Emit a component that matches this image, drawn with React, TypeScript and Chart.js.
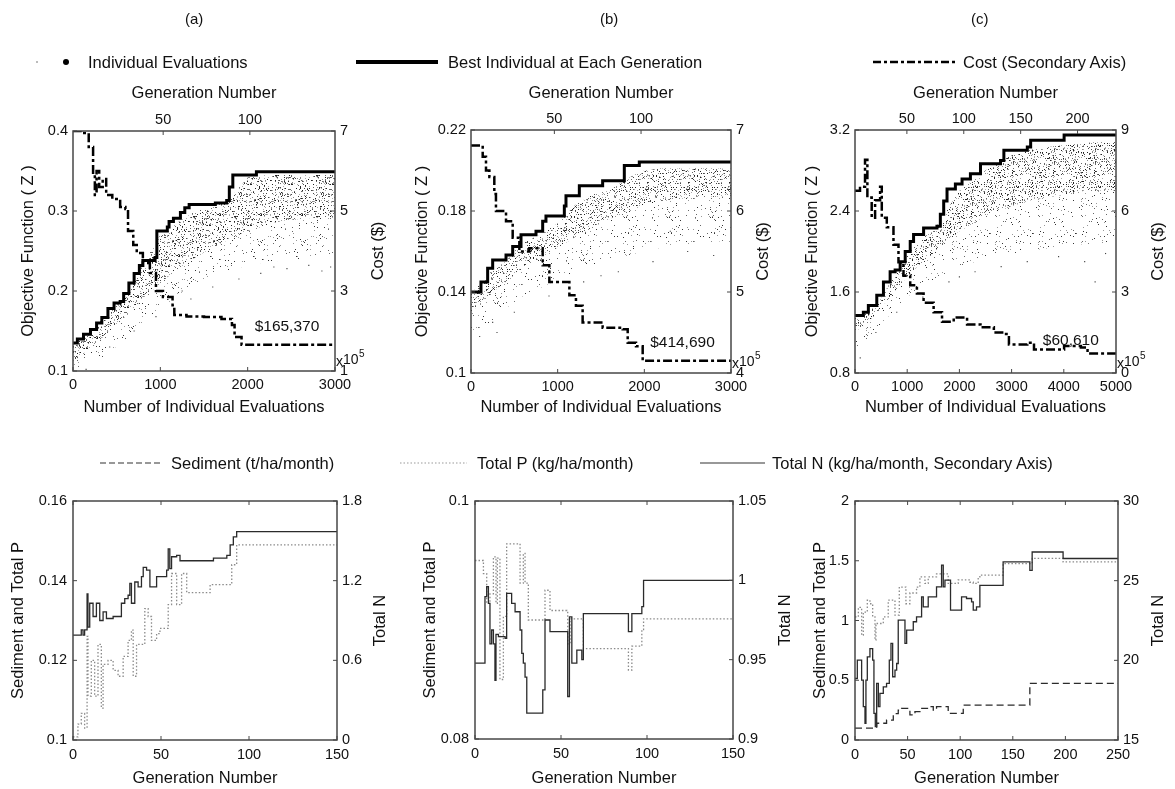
import React, { useEffect, useRef } from 'react';
import { Chart, registerables } from 'chart.js';
Chart.register(...registerables);

const W = 1175;
const H = 789;
const FONT = '"Liberation Sans", Arial, Helvetica, sans-serif';

type Pt = [number, number];

// ---------------- Top row: (a) ----------------
const aBest: Pt[] = [[0,0.135],[50,0.14],[120,0.146],[200,0.152],[270,0.16],[330,0.167],[400,0.178],[470,0.185],[540,0.187],[580,0.197],[640,0.21],[700,0.222],[760,0.232],[800,0.238],[940,0.242],[960,0.275],[1080,0.28],[1100,0.287],[1150,0.291],[1230,0.298],[1280,0.304],[1330,0.308],[1630,0.31],[1760,0.313],[1790,0.33],[1830,0.345],[2100,0.349],[3000,0.349]];
const aCost: Pt[] = [[0,7.0],[100,6.95],[180,6.6],[230,5.9],[250,5.4],[270,6.0],[300,5.6],[340,5.8],[380,5.4],[450,5.3],[540,5.1],[600,5.05],[630,4.5],[690,4.15],[730,3.95],[800,3.7],[880,3.45],[950,3.0],[1030,2.85],[1140,2.6],[1160,2.4],[1300,2.36],[1500,2.35],[1700,2.3],[1820,2.15],[1850,1.85],[1930,1.654],[3000,1.654]];
const aCloudX = [0,200,400,600,800,1000,1200,1400,1600,1800,2000,2200,2400,2600,2800,3000];
const aCloudUpper = [0.131,0.149,0.172,0.193,0.232,0.27,0.286,0.3,0.304,0.316,0.342,0.345,0.345,0.345,0.345,0.345];
const aCloudMid = [0.112,0.128,0.148,0.168,0.19,0.21,0.228,0.242,0.255,0.265,0.275,0.282,0.288,0.29,0.292,0.292];
const aCloudLower = [0.1,0.108,0.122,0.14,0.16,0.178,0.195,0.208,0.218,0.226,0.232,0.236,0.238,0.24,0.24,0.24];
const aStray: Pt[] = [[150,0.102],[420,0.13],[700,0.15],[950,0.168],[1150,0.182],[1250,0.2],[1350,0.19],[1600,0.205],[1900,0.215],[2150,0.222],[2300,0.23],[2450,0.228],[2700,0.232],[2850,0.225],[2950,0.23]];

// ---------------- Top row: (b) ----------------
const bBest: Pt[] = [[0,0.14],[115,0.145],[192,0.1517],[250,0.1558],[404,0.1583],[481,0.1625],[577,0.1683],[750,0.17],[827,0.175],[865,0.1775],[1077,0.1825],[1096,0.1875],[1250,0.1925],[1519,0.195],[1769,0.2025],[1942,0.2042],[3000,0.2042]];
const bCost: Pt[] = [[0,6.81],[96,6.81],[135,6.67],[173,6.5],[212,6.42],[269,6.21],[288,6.0],[365,6.0],[404,5.875],[481,5.67],[558,5.5],[673,5.54],[808,5.54],[827,5.33],[904,5.125],[1058,5.125],[1135,4.96],[1211,4.83],[1288,4.625],[1519,4.56],[1750,4.54],[1808,4.375],[1904,4.33],[1981,4.15],[3000,4.15]];
const bCloudX = [0,200,400,600,800,1000,1200,1400,1600,1800,2000,2200,2400,2600,2800,3000];
const bCloudUpper = [0.139,0.149,0.155,0.165,0.168,0.174,0.183,0.188,0.19,0.196,0.2,0.201,0.201,0.201,0.201,0.201];
const bCloudMid = [0.13,0.138,0.145,0.152,0.157,0.162,0.167,0.172,0.176,0.18,0.183,0.185,0.186,0.187,0.187,0.187];
const bCloudLower = [0.12,0.124,0.132,0.138,0.142,0.146,0.15,0.153,0.156,0.158,0.16,0.162,0.163,0.164,0.165,0.165];
const bStray: Pt[] = [[100,0.118],[250,0.125],[300,0.12],[500,0.13],[900,0.138],[1300,0.145],[1500,0.148],[1700,0.15],[2100,0.155],[2300,0.17],[2500,0.16],[2800,0.158]];

// ---------------- Top row: (c) ----------------
const cBest: Pt[] = [[0,1.367],[160,1.4],[256,1.467],[417,1.567],[545,1.7],[673,1.8],[769,1.817],[865,1.9],[962,2.0],[1058,2.1],[1122,2.167],[1314,2.233],[1570,2.25],[1635,2.367],[1699,2.5],[1763,2.617],[1923,2.667],[2051,2.717],[2211,2.767],[2404,2.867],[2788,2.9],[2852,3.0],[3301,3.033],[3365,3.1],[3950,3.1],[4006,3.15],[5000,3.15]];
const cCost: Pt[] = [[0,6.75],[96,6.9],[192,7.9],[237,6.5],[320,5.75],[385,6.4],[481,6.9],[513,5.75],[609,5.4],[737,4.75],[833,4.1],[929,3.6],[1058,3.25],[1186,2.94],[1314,2.6],[1506,2.25],[1667,1.9],[1891,2.06],[2147,1.8],[2404,1.69],[2660,1.5],[2852,1.44],[2949,1.06],[3301,1.125],[3429,0.875],[4006,1.0],[4327,0.94],[4455,0.72],[5000,0.7]];
const cCloudX = [0,250,500,750,1000,1250,1500,2000,2500,3000,3500,4000,4500,5000];
const cCloudUpper = [1.34,1.39,1.53,1.77,1.96,2.12,2.2,2.6,2.8,2.95,3.02,3.05,3.08,3.08];
const cCloudMid = [1.2,1.3,1.44,1.6,1.75,1.88,1.98,2.2,2.35,2.45,2.52,2.56,2.6,2.6];
const cCloudLower = [1.0,1.12,1.28,1.42,1.55,1.65,1.72,1.85,1.93,1.98,2.02,2.05,2.08,2.1];
const cStray: Pt[] = [[100,0.95],[400,1.2],[800,1.4],[1300,1.55],[1800,1.7],[2000,1.75],[2300,1.8],[2800,1.85],[3300,1.9],[3900,1.95],[4400,1.9],[4600,1.7],[4800,1.98]];

// ---------------- Bottom row ----------------
const aTotalN: Pt[] = [[0,0.79],[4,0.79],[4.7,0.83],[5.7,0.79],[6.6,0.83],[8,1.1],[8.5,0.85],[9.5,1.03],[11.4,0.93],[13.3,1.03],[15.2,0.9],[17.1,0.965],[19,0.915],[22.8,0.93],[27.5,1.03],[29.4,1.065],[31.3,1.09],[32.3,1.18],[33.2,1.03],[35.1,1.19],[37,1.153],[38.9,1.23],[39.9,1.3],[41.8,1.28],[43.7,1.153],[47.5,1.23],[53.2,1.28],[54.1,1.44],[55,1.29],[56,1.38],[58.9,1.39],[60.8,1.35],[79.8,1.37],[87.4,1.39],[89.3,1.47],[91.1,1.53],[93,1.57],[150,1.57]];
const aTotalP: Pt[] = [[0,0.1008],[2.8,0.104],[4.7,0.1067],[6.6,0.103],[8,0.126],[8.5,0.111],[10.4,0.12],[12.3,0.111],[14.2,0.124],[16.1,0.108],[17.1,0.119],[19.9,0.12],[22.8,0.1175],[25.6,0.116],[28.5,0.121],[31.3,0.125],[33.2,0.1276],[34.2,0.116],[36.1,0.124],[40.8,0.133],[42.7,0.131],[44.6,0.125],[47.5,0.1267],[49.4,0.128],[54.1,0.134],[56,0.1418],[58.9,0.134],[61.7,0.1418],[64.6,0.137],[77.9,0.139],[90.2,0.144],[93,0.149],[150,0.149]];

const bTotalN: Pt[] = [[0,0.9478],[4.9,0.9478],[5.8,0.9897],[6.8,0.996],[7.8,0.9855],[8.7,0.96],[9.7,0.9687],[10.7,0.96],[11.6,0.937],[12.2,0.966],[13.6,0.9645],[17.5,0.9635],[18.4,0.9918],[21.3,0.9855],[23.3,0.9802],[26.2,0.9687],[27.2,0.954],[28.1,0.9478],[29.1,0.939],[30.1,0.9163],[38.8,0.9163],[39.4,0.931],[40.7,0.975],[43.6,0.9677],[53.4,0.9677],[53.9,0.9268],[54.9,0.977],[56.3,0.9478],[59.2,0.956],[62.1,0.95],[63,0.979],[88.3,0.979],[89.2,0.9677],[91.2,0.979],[97,0.9834],[98,1.0],[150,1.0]];
const bTotalP: Pt[] = [[0,0.095],[4.9,0.0939],[6.8,0.0914],[8.7,0.0922],[10.7,0.0953],[12.2,0.0914],[13,0.0952],[14.5,0.085],[16.5,0.0903],[18.4,0.0964],[26.2,0.0931],[28.1,0.0956],[29.1,0.0931],[31,0.09],[39.8,0.09],[40.7,0.0925],[43.6,0.0908],[53.4,0.0907],[53.9,0.088],[55.3,0.0901],[63,0.0876],[88.3,0.0876],[89.2,0.0858],[91.2,0.0878],[97,0.0892],[98,0.0901],[150,0.0901]];

const cTotalN: Pt[] = [[0,18.86],[2.2,20.01],[6.3,18.76],[7.9,17.09],[9.5,16.04],[10.4,18.76],[11.7,20.22],[14.2,20.74],[16.8,20.01],[18,16.67],[19.3,15.84],[20.6,18.55],[22.2,17.09],[23.7,17.92],[26.9,18.34],[30,18.55],[32.6,20.01],[34.2,21.06],[35.8,18.97],[38,19.39],[39.6,19.8],[41.1,22.52],[47.5,21.06],[49.1,21.89],[55.4,22.42],[58.5,22.73],[63.3,23.98],[64.9,23.36],[69.6,23.98],[77.5,24.61],[82.3,25.97],[83.9,24.61],[85.5,25.03],[90.8,23.15],[101.3,23.98],[106,23.88],[110.8,23.67],[112.4,23.15],[115.5,23.36],[118.7,24.71],[140.8,26.18],[166.2,25.65],[168.4,26.8],[197.8,26.39],[250,26.39]];
const cTotalP: Pt[] = [[0,1.03],[3.2,1.11],[6.3,0.877],[7.9,1.07],[11.7,1.17],[14.2,1.14],[16.8,1.03],[19,0.836],[19.9,0.975],[26.9,1.03],[31.6,1.17],[38,1.045],[42.1,1.28],[48.4,1.14],[52.2,1.23],[58.5,1.28],[61.7,1.365],[66.5,1.31],[69.6,1.365],[77.5,1.39],[88.6,1.31],[98.1,1.34],[109.2,1.32],[112.4,1.31],[117.1,1.365],[118.7,1.38],[140.8,1.476],[168.4,1.52],[197.8,1.49],[250,1.49]];
const cSediment: Pt[] = [[0,0.1],[20.6,0.14],[30,0.167],[36.4,0.22],[41.1,0.25],[44.3,0.265],[52.2,0.21],[57,0.237],[61.7,0.265],[69.6,0.279],[74.4,0.25],[77.5,0.279],[88.6,0.223],[102.9,0.292],[166.2,0.474],[250,0.474]];

// ---------------- helpers ----------------
const xy = (pts: Pt[]) => pts.map(([x, y]) => ({ x, y }));
const zipXY = (xs: number[], ys: number[]) => xs.map((x, i) => ({ x, y: ys[i] }));

function mix(n: number) {
  let v = n >>> 0;
  v = Math.imul(v ^ (v >>> 16), 0x45d9f3b);
  v = Math.imul(v ^ (v >>> 16), 0x45d9f3b);
  return (v ^ (v >>> 16)) >>> 0;
}

// stipple texture (a fill style, not data): deterministic hashed dot positions
function stipple(ctx: CanvasRenderingContext2D, size: number, n: number, colors: string[], seed: number) {
  const c = document.createElement('canvas');
  c.width = size;
  c.height = size;
  const g = c.getContext('2d')!;
  for (let i = 0; i < n; i++) {
    const px = mix(seed + i * 2 + 1) % size;
    const py = mix(seed + i * 2 + 2) % size;
    g.fillStyle = colors[i % colors.length];
    g.fillRect(px, py, 1, 1);
  }
  return ctx.createPattern(c, 'repeat');
}

function scaleCfg(min: number, max: number, ticks: number[], position: string, size: number, pad: number) {
  const horizontal = position === 'top' || position === 'bottom';
  return {
    type: 'linear',
    position,
    min,
    max,
    grid: { display: false, drawTicks: false },
    border: { display: false },
    ticks: {
      font: { family: FONT, size: 14.5 },
      color: '#111',
      padding: pad,
      autoSkip: false,
      maxRotation: 0,
      minRotation: 0,
      callback: (v: number) => String(v),
    },
    afterBuildTicks: (s: any) => {
      s.ticks = ticks.map((v) => ({ value: v }));
    },
    afterFit: (s: any) => {
      if (horizontal) s.height = size;
      else s.width = size;
    },
  };
}

type Title = { text: string; x: number; y: number; rot?: number; size?: number };

function decoPlugin(spec: any) {
  return {
    id: 'deco',
    afterDraw(chart: any) {
      const { ctx, chartArea: a, scales } = chart;
      ctx.save();
      ctx.strokeStyle = '#474747';
      ctx.lineWidth = 1.5;
      ctx.strokeRect(a.left, a.top, a.right - a.left, a.bottom - a.top);
      const tl = 4;
      ctx.lineWidth = 1;
      ctx.beginPath();
      scales.x.ticks.forEach((t: any) => {
        const p = scales.x.getPixelForValue(t.value);
        ctx.moveTo(p, a.bottom);
        ctx.lineTo(p, a.bottom - tl);
        if (spec.mirrorX) {
          ctx.moveTo(p, a.top);
          ctx.lineTo(p, a.top + tl);
        }
      });
      if (scales.xg) {
        scales.xg.ticks.forEach((t: any) => {
          const p = scales.xg.getPixelForValue(t.value);
          ctx.moveTo(p, a.top);
          ctx.lineTo(p, a.top + tl);
        });
      }
      scales.y.ticks.forEach((t: any) => {
        const p = scales.y.getPixelForValue(t.value);
        ctx.moveTo(a.left, p);
        ctx.lineTo(a.left + tl, p);
      });
      scales.y2.ticks.forEach((t: any) => {
        const p = scales.y2.getPixelForValue(t.value);
        ctx.moveTo(a.right, p);
        ctx.lineTo(a.right - tl, p);
      });
      ctx.stroke();

      ctx.fillStyle = '#111';
      ctx.textBaseline = 'middle';
      ctx.textAlign = 'center';
      (spec.titles as Title[]).forEach((t) => {
        ctx.save();
        ctx.font = `${t.size || 16.5}px ${FONT}`;
        ctx.translate(t.x, t.y);
        if (t.rot) ctx.rotate(t.rot);
        ctx.fillText(t.text, 0, 0);
        ctx.restore();
      });

      if (spec.costLabel) {
        const px = scales.x.getPixelForValue(spec.costLabelAt[0]);
        const py = scales.y2.getPixelForValue(spec.costLabelAt[1]);
        ctx.font = `15.5px ${FONT}`;
        ctx.fillText(spec.costLabel, px, py);
      }
      if (spec.exponent) {
        ctx.textAlign = 'left';
        ctx.font = `14px ${FONT}`;
        ctx.fillText('x', a.right + 1, a.bottom - 9);
        ctx.fillText('10', a.right + 8, a.bottom - 11);
        ctx.font = `10px ${FONT}`;
        ctx.fillText('5', a.right + 24, a.bottom - 17);
      }
      ctx.restore();
    },
  };
}

const SW = 40;
const SH = 30;

function padFor(f: any, hasTop: boolean) {
  return { left: f.L - SW, right: W - f.R - SW, top: hasTop ? f.T - SH : f.T, bottom: H - f.B - SH };
}

function topConfig(canvas: HTMLCanvasElement, s: any, idx: number) {
  const ctx = canvas.getContext('2d')!;
  const dense = stipple(ctx, 41, 330, ['#222', '#8a8a8a', '#474747', '#aaa', '#666'], 1000 * idx + 7);
  const sparse = stipple(ctx, 43, 68, ['#333', '#999', '#666'], 1000 * idx + 501);
  const cx = (s.frame.L + s.frame.R) / 2;
  const cy = (s.frame.T + s.frame.B) / 2;
  return {
    type: 'line',
    data: {
      datasets: [
        { data: xy(s.best), xAxisID: 'x', yAxisID: 'y', borderColor: '#000', borderWidth: 3, pointRadius: 0, stepped: 'before', fill: false },
        { data: xy(s.cost), xAxisID: 'x', yAxisID: 'y2', borderColor: '#000', borderWidth: 2.5, borderDash: [9, 3, 3, 3], pointRadius: 0, stepped: 'before', fill: false },
        { data: xy(s.stray), xAxisID: 'x', yAxisID: 'y', showLine: false, pointRadius: 0.8, pointStyle: 'rect', pointBackgroundColor: '#444', pointBorderWidth: 0 },
        { data: zipXY(s.cloudX, s.cloudUpper), xAxisID: 'x', yAxisID: 'y', borderColor: 'rgba(0,0,0,0)', borderWidth: 0, pointRadius: 0, fill: false },
        { data: zipXY(s.cloudX, s.cloudMid), xAxisID: 'x', yAxisID: 'y', borderColor: 'rgba(0,0,0,0)', borderWidth: 0, pointRadius: 0, fill: '-1', backgroundColor: dense },
        { data: zipXY(s.cloudX, s.cloudLower), xAxisID: 'x', yAxisID: 'y', borderColor: 'rgba(0,0,0,0)', borderWidth: 0, pointRadius: 0, fill: '-1', backgroundColor: sparse },
      ],
    },
    options: {
      animation: false,
      responsive: false,
      devicePixelRatio: 1,
      events: [],
      layout: { padding: padFor(s.frame, true) },
      plugins: { legend: { display: false }, tooltip: { enabled: false } },
      scales: {
        x: scaleCfg(0, s.xMax, s.xTicks, 'bottom', SH, 5),
        xg: scaleCfg(s.genMin, s.genMax, s.genTicks, 'top', SH, 2),
        y: scaleCfg(s.yMin, s.yMax, s.yTicks, 'left', SW, 5),
        y2: scaleCfg(s.y2Min, s.y2Max, s.y2Ticks, 'right', SW, 5),
      },
    },
    plugins: [
      decoPlugin({
        mirrorX: false,
        exponent: true,
        costLabel: s.costLabel,
        costLabelAt: s.costLabelAt,
        titles: [
          { text: 'Objective Function ( Z )', x: s.leftTitleX, y: cy, rot: -Math.PI / 2 },
          { text: 'Cost ($)', x: s.rightTitleX, y: cy, rot: -Math.PI / 2 },
          { text: 'Generation Number', x: cx, y: 93 },
          { text: 'Number of Individual Evaluations', x: cx, y: 407 },
        ],
      }),
    ],
  };
}

function bottomConfig(canvas: HTMLCanvasElement, s: any) {
  const cx = (s.frame.L + s.frame.R) / 2;
  const cy = (s.frame.T + s.frame.B) / 2;
  const datasets: any[] = [
    { data: xy(s.totalN), xAxisID: 'x', yAxisID: 'y2', borderColor: '#2b2b2b', borderWidth: 1.3, pointRadius: 0, stepped: 'before', fill: false },
    { data: xy(s.totalP), xAxisID: 'x', yAxisID: 'y', borderColor: '#8a8a8a', borderWidth: 1.3, borderDash: [1.5, 2], pointRadius: 0, stepped: 'before', fill: false },
  ];
  if (s.sediment) {
    datasets.push({ data: xy(s.sediment), xAxisID: 'x', yAxisID: 'y', borderColor: '#2b2b2b', borderWidth: 1.3, borderDash: [7, 4], pointRadius: 0, stepped: 'before', fill: false });
  }
  return {
    type: 'line',
    data: { datasets },
    options: {
      animation: false,
      responsive: false,
      devicePixelRatio: 1,
      events: [],
      layout: { padding: padFor(s.frame, false) },
      plugins: { legend: { display: false }, tooltip: { enabled: false } },
      scales: {
        x: scaleCfg(0, s.xMax, s.xTicks, 'bottom', SH, 6),
        y: scaleCfg(s.yMin, s.yMax, s.yTicks, 'left', SW, 6),
        y2: scaleCfg(s.y2Min, s.y2Max, s.y2Ticks, 'right', SW, 5),
      },
    },
    plugins: [
      decoPlugin({
        mirrorX: true,
        titles: [
          { text: 'Sediment and Total P', x: s.leftTitleX, y: cy, rot: -Math.PI / 2 },
          { text: 'Total N', x: s.rightTitleX, y: cy, rot: -Math.PI / 2 },
          { text: 'Generation Number', x: cx, y: 778 },
        ],
      }),
    ],
  };
}

const topSpecs = [
  {
    frame: { L: 73, R: 335, T: 131, B: 371 },
    xMax: 3000, xTicks: [0, 1000, 2000, 3000],
    genMin: -2, genMax: 149.1, genTicks: [50, 100],
    yMin: 0.1, yMax: 0.4, yTicks: [0.1, 0.2, 0.3, 0.4],
    y2Min: 1, y2Max: 7, y2Ticks: [1, 3, 5, 7],
    best: aBest, cost: aCost, cloudX: aCloudX, cloudUpper: aCloudUpper, cloudMid: aCloudMid, cloudLower: aCloudLower, stray: aStray,
    costLabel: '$165,370', costLabelAt: [2450, 2.1],
    leftTitleX: 28, rightTitleX: 378,
  },
  {
    frame: { L: 471, R: 731, T: 130, B: 373 },
    xMax: 3000, xTicks: [0, 1000, 2000, 3000],
    genMin: 1.9, genMax: 151.9, genTicks: [50, 100],
    yMin: 0.1, yMax: 0.22, yTicks: [0.1, 0.14, 0.18, 0.22],
    y2Min: 4, y2Max: 7, y2Ticks: [4, 5, 6, 7],
    best: bBest, cost: bCost, cloudX: bCloudX, cloudUpper: bCloudUpper, cloudMid: bCloudMid, cloudLower: bCloudLower, stray: bStray,
    costLabel: '$414,690', costLabelAt: [2440, 4.375],
    leftTitleX: 422, rightTitleX: 763,
  },
  {
    frame: { L: 855, R: 1116, T: 130, B: 373 },
    xMax: 5000, xTicks: [0, 1000, 2000, 3000, 4000, 5000],
    genMin: 4.4, genMax: 233.8, genTicks: [50, 100, 150, 200],
    yMin: 0.8, yMax: 3.2, yTicks: [0.8, 1.6, 2.4, 3.2],
    y2Min: 0, y2Max: 9, y2Ticks: [0, 3, 6, 9],
    best: cBest, cost: cCost, cloudX: cCloudX, cloudUpper: cCloudUpper, cloudMid: cCloudMid, cloudLower: cCloudLower, stray: cStray,
    costLabel: '$60,610', costLabelAt: [4135, 1.19],
    leftTitleX: 812, rightTitleX: 1158,
  },
];

const bottomSpecs = [
  {
    frame: { L: 73, R: 337, T: 501, B: 740 },
    xMax: 150, xTicks: [0, 50, 100, 150],
    yMin: 0.1, yMax: 0.16, yTicks: [0.1, 0.12, 0.14, 0.16],
    y2Min: 0, y2Max: 1.8, y2Ticks: [0, 0.6, 1.2, 1.8],
    totalN: aTotalN, totalP: aTotalP,
    leftTitleX: 18, rightTitleX: 380,
  },
  {
    frame: { L: 475, R: 733, T: 501, B: 739 },
    xMax: 150, xTicks: [0, 50, 100, 150],
    yMin: 0.08, yMax: 0.1, yTicks: [0.08, 0.1],
    y2Min: 0.9, y2Max: 1.05, y2Ticks: [0.9, 0.95, 1, 1.05],
    totalN: bTotalN, totalP: bTotalP,
    leftTitleX: 430, rightTitleX: 785,
  },
  {
    frame: { L: 855, R: 1118, T: 501, B: 740 },
    xMax: 250, xTicks: [0, 50, 100, 150, 200, 250],
    yMin: 0, yMax: 2, yTicks: [0, 0.5, 1, 1.5, 2],
    y2Min: 15, y2Max: 30, y2Ticks: [15, 20, 25, 30],
    totalN: cTotalN, totalP: cTotalP, sediment: cSediment,
    leftTitleX: 820, rightTitleX: 1158,
  },
];

const txt = (s: string, left: number, top: number, extra: any = {}) => (
  <div style={{ position: 'absolute', left, top, transform: 'translateY(-50%)', whiteSpace: 'nowrap', fontSize: 16.5, lineHeight: '19px', ...extra }}>{s}</div>
);

export default function App() {
  const refs = useRef<(HTMLCanvasElement | null)[]>([]);
  useEffect(() => {
    const charts: Chart[] = [];
    topSpecs.forEach((s, i) => {
      const cv = refs.current[i]!;
      charts.push(new Chart(cv, topConfig(cv, s, i) as any));
    });
    bottomSpecs.forEach((s, i) => {
      const cv = refs.current[3 + i]!;
      charts.push(new Chart(cv, bottomConfig(cv, s) as any));
    });
    return () => charts.forEach((c) => c.destroy());
  }, []);

  return (
    <div style={{ position: 'absolute', left: 0, top: 0, width: W, height: H, background: '#fff', fontFamily: FONT, color: '#111', overflow: 'hidden' }}>
      {[0, 1, 2, 3, 4, 5].map((i) => (
        <canvas key={i} ref={(el) => { refs.current[i] = el; }} width={W} height={H} style={{ position: 'absolute', left: 0, top: 0, width: W, height: H }} />
      ))}
      {txt('(a)', 185, 18, { fontSize: 15 })}
      {txt('(b)', 600, 18, { fontSize: 15 })}
      {txt('(c)', 971, 18, { fontSize: 15 })}

      <div style={{ position: 'absolute', left: 36, top: 61, width: 2, height: 2, background: '#bbb' }} />
      <div style={{ position: 'absolute', left: 63, top: 59, width: 6, height: 6, borderRadius: 3, background: '#000' }} />
      {txt('Individual Evaluations', 88, 62)}
      <svg style={{ position: 'absolute', left: 356, top: 56 }} width={82} height={12}>
        <line x1={0} y1={6} x2={82} y2={6} stroke="#000" strokeWidth={4} />
      </svg>
      {txt('Best Individual at Each Generation', 448, 62)}
      <svg style={{ position: 'absolute', left: 873, top: 56 }} width={82} height={12}>
        <line x1={0} y1={6} x2={82} y2={6} stroke="#000" strokeWidth={2.5} strokeDasharray="8 3 3 3" />
      </svg>
      {txt('Cost (Secondary Axis)', 963, 62)}

      <svg style={{ position: 'absolute', left: 100, top: 457 }} width={63} height={12}>
        <line x1={0} y1={6} x2={63} y2={6} stroke="#333" strokeWidth={1.2} strokeDasharray="6 3" />
      </svg>
      {txt('Sediment (t/ha/month)', 171, 463)}
      <svg style={{ position: 'absolute', left: 400, top: 457 }} width={67} height={12}>
        <line x1={0} y1={6} x2={67} y2={6} stroke="#999" strokeWidth={1.2} strokeDasharray="1.5 2" />
      </svg>
      {txt('Total P (kg/ha/month)', 477, 463)}
      <svg style={{ position: 'absolute', left: 700, top: 457 }} width={65} height={12}>
        <line x1={0} y1={6} x2={65} y2={6} stroke="#333" strokeWidth={1.2} />
      </svg>
      {txt('Total N (kg/ha/month, Secondary Axis)', 772, 463)}
    </div>
  );
}
